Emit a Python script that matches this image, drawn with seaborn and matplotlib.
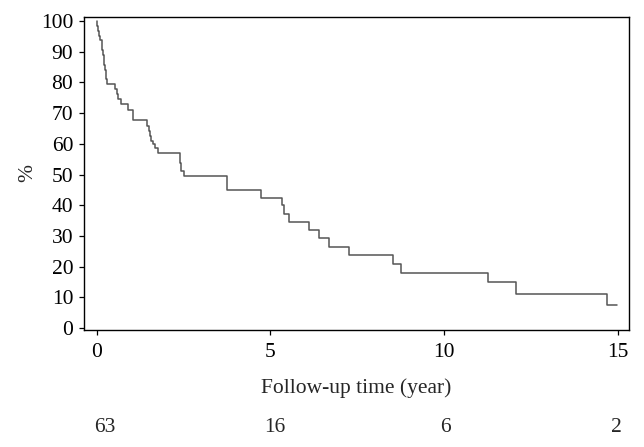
import matplotlib
matplotlib.use("Agg")
import matplotlib.pyplot as plt
import matplotlib.transforms as mtransforms
import seaborn as sns
import pandas as pd

# Kaplan-Meier estimate
times = [0.0, 0.02, 0.04, 0.06, 0.09, 0.15, 0.16, 0.18, 0.20, 0.22, 0.24, 0.26, 0.27, 0.29,
         0.53, 0.58, 0.63, 0.70, 0.90, 1.05, 1.44, 1.50, 1.54, 1.58, 1.62, 1.67, 1.77,
         2.40, 2.44, 2.51, 3.74, 4.73, 5.33, 5.40, 5.55, 6.11, 6.41, 6.70, 7.27,
         8.53, 8.76, 11.27, 12.06, 14.70, 14.97]
survival = [100.0, 98.4, 96.8, 95.2, 93.7, 92.1, 90.5, 88.9, 87.3, 85.7, 84.1, 82.5, 81.0, 79.4,
            77.8, 76.2, 74.6, 73.0, 71.0, 67.6, 65.8, 64.2, 62.6, 61.0, 59.8, 58.5, 57.1,
            53.6, 51.3, 49.5, 45.0, 42.4, 40.0, 37.3, 34.6, 31.9, 29.2, 26.5, 23.8,
            20.8, 17.8, 15.0, 11.1, 7.4, 7.4]

x_ticks = [0, 5, 10, 15]
y_ticks = [0, 10, 20, 30, 40, 50, 60, 70, 80, 90, 100]
risk_times = [0, 5, 10, 15]
at_risk = ["63", "16", "6", "2"]

df = pd.DataFrame({"time": times, "pct": survival})

sns.set_style("white")
plt.rcParams["font.family"] = ["Liberation Serif", "DejaVu Serif"]

fig = plt.figure(figsize=(6.44, 4.47), dpi=100)
ax = fig.add_axes([0.130, 0.262, 0.847, 0.700])

sns.lineplot(data=df, x="time", y="pct", ax=ax, estimator=None,
             drawstyle="steps-post", color="#555555", linewidth=1.1)

ax.set_xlim(-0.37, 15.33)
ax.set_ylim(-0.6, 101.3)
ax.set_xticks(x_ticks)
ax.set_yticks(y_ticks)
ax.tick_params(axis="both", direction="out", length=3.5, width=0.9, colors="black",
               labelsize=15.5, bottom=True, left=True, top=False, right=False)
ax.tick_params(axis="x", pad=6)
ax.tick_params(axis="y", pad=4)
for s in ax.spines.values():
    s.set_visible(True)
    s.set_color("black")
    s.set_linewidth(1.0)

ax.set_xlabel("Follow-up time (year)", fontsize=15.5, labelpad=11.5)
ax.set_ylabel("%", fontsize=15.5, labelpad=3)

trans = mtransforms.blended_transform_factory(ax.transData, ax.transAxes)
offsets = [8, 5, 1, -1]
for t, n, off in zip(risk_times, at_risk, offsets):
    tr = trans + mtransforms.ScaledTranslation(off / 100, 0, fig.dpi_scale_trans)
    ax.text(t, -0.312, n, transform=tr, ha="center", va="center", fontsize=15.5)

fig.savefig("out.png", dpi=100)
